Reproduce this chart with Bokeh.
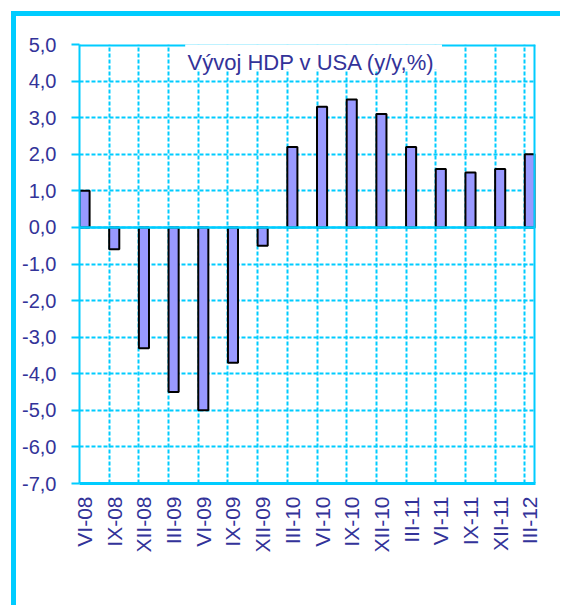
import math
from bokeh.plotting import figure
from bokeh.models import Range1d, FixedTicker, Span, Label, BoxAnnotation, ColumnDataSource
from bokeh.embed import file_html
from bokeh.resources import INLINE

categories = ["VI-08", "IX-08", "XII-08", "III-09", "VI-09", "IX-09", "XII-09",
              "III-10", "VI-10", "IX-10", "XII-10", "III-11", "VI-11", "IX-11",
              "XII-11", "III-12"]
values = [1.0, -0.6, -3.3, -4.5, -5.0, -3.7, -0.5, 2.2, 3.3, 3.5, 3.1, 2.2,
          1.6, 1.5, 1.6, 2.0]
y_ticks = [-7, -6, -5, -4, -3, -2, -1, 0, 1, 2, 3, 4, 5]
y_tick_labels = ["-7,0", "-6,0", "-5,0", "-4,0", "-3,0", "-2,0", "-1,0",
                 "0,0", "1,0", "2,0", "3,0", "4,0", "5,0"]
title_text = "Vývoj HDP v USA (y/y,%)"

CYAN = "#00CCFF"
NAVY = "#333399"
BAR = "#9999FF"
BAR_W = 0.34
X_END = 15.36

idx = list(range(len(categories)))
centers = [i + BAR_W / 2 for i in idx]

src = ColumnDataSource(data=dict(xc=centers, val=values, cat=categories))

p = figure(width=560, height=605, output_backend="svg", toolbar_location=None,
           x_range=Range1d(0, X_END), y_range=Range1d(-7, 5),
           min_border_left=79, min_border_right=25, min_border_top=44,
           min_border_bottom=122)
p.background_fill_color = "white"
p.border_fill_color = None
p.outline_line_color = None
p.styles = {"box-shadow": "inset 11px 11px 0 0 #ffffff, inset 16px 16px 0 0 #00CCFF",
            "background-color": "#ffffff"}

# grids
p.xgrid.ticker = FixedTicker(ticks=idx)
p.ygrid.ticker = FixedTicker(ticks=y_ticks)
for g in (p.xgrid, p.ygrid):
    g.grid_line_color = CYAN
    g.grid_line_width = 2
    g.grid_line_dash = "4 2"
    g.grid_line_alpha = 1.0

# x axis
xa = p.xaxis[0]
xa.ticker = FixedTicker(ticks=centers)
xa.major_label_overrides = {c: lab for c, lab in zip(centers, categories)}
xa.major_label_orientation = math.pi / 2
xa.major_tick_line_color = None
xa.minor_tick_line_color = None
xa.axis_line_color = CYAN
xa.axis_line_width = 3
xa.major_label_standoff = 7
xa.major_label_text_font = "Liberation Sans"
xa.major_label_text_font_size = "21px"
xa.major_label_text_color = NAVY

# y axis
ya = p.yaxis[0]
ya.ticker = FixedTicker(ticks=y_ticks)
ya.major_label_overrides = {t: lab for t, lab in zip(y_ticks, y_tick_labels)}
ya.major_tick_out = 8
ya.major_tick_in = 0
ya.major_tick_line_color = CYAN
ya.major_tick_line_width = 2
ya.minor_tick_line_color = None
ya.axis_line_color = CYAN
ya.axis_line_width = 2
ya.major_label_standoff = 15
ya.major_label_text_font = "Liberation Sans"
ya.major_label_text_font_size = "20px"
ya.major_label_text_color = NAVY

# bars
p.vbar(x="xc", top="val", bottom=0, width=BAR_W, source=src,
       fill_color=BAR, line_color="black", line_width=2)

# zero line, top and right frame lines
p.add_layout(Span(location=0, dimension="width", line_color=CYAN, line_width=2.5))
p.add_layout(Span(location=5, dimension="width", line_color=CYAN, line_width=4))
p.add_layout(Span(location=X_END, dimension="height", line_color=CYAN, line_width=4))

# title with white box
p.add_layout(BoxAnnotation(left=3.56, right=12.21, top=5.6, bottom=4.32,
                           fill_color="white", fill_alpha=1.0, line_color=None,
                           level="overlay"))
p.add_layout(Label(x=7.81, y=4.52, text=title_text, text_align="center",
                   text_baseline="alphabetic", text_color=NAVY,
                   text_font="Liberation Sans", text_font_size="22px",
                   level="overlay"))

open("out.html", "w").write(file_html(p, INLINE))
